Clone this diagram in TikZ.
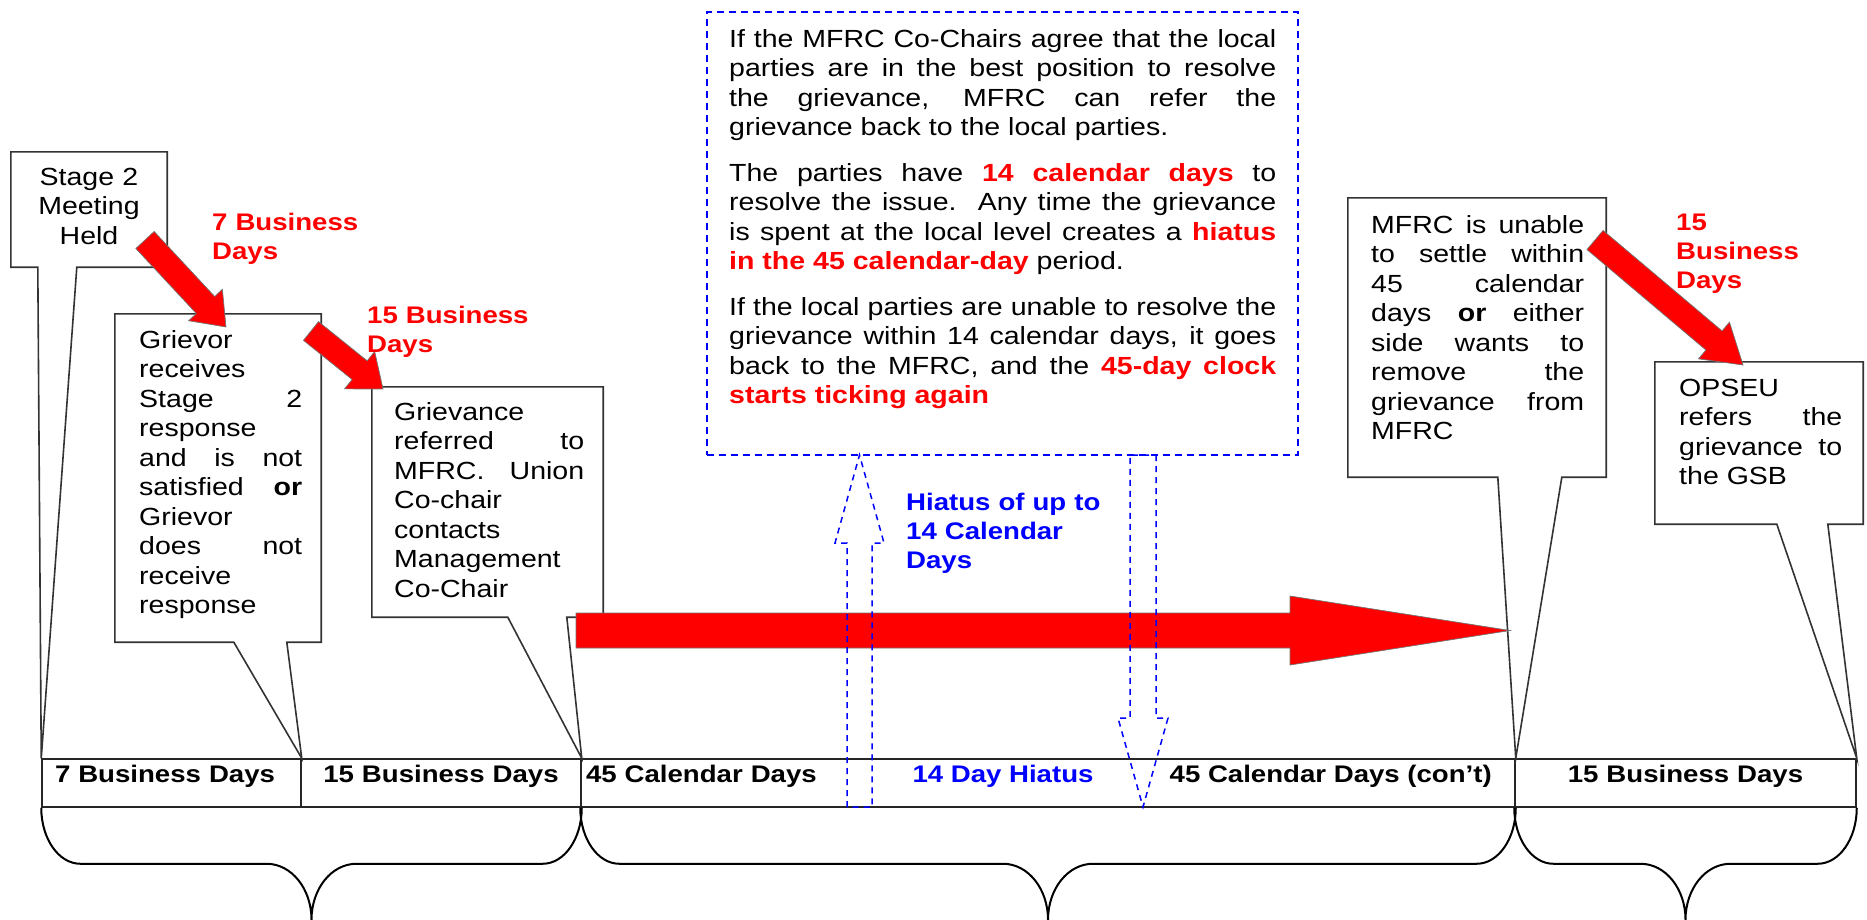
\documentclass[tikz,border=0pt]{standalone}
\usepackage{fontspec}
\setmainfont{Liberation Sans}[FakeStretch=1.15]
\usetikzlibrary{calc}

\tikzset{
  boxshape/.style={inner sep=0pt, draw=none},
  callout/.style={draw=black!80, line width=1.6pt, line join=miter},
  body/.style={font=\fontsize{24.8}{29.5}\selectfont, align=justify, inner sep=0pt, anchor=base west},
  lab/.style={font=\bfseries\fontsize{24}{29}\selectfont, text=red, align=left, text width=220pt, inner sep=0pt, anchor=base west},
  cell/.style={draw=black!85, line width=1.5pt, inner ysep=0pt, inner xsep=13pt, minimum height=48pt, text height=23pt, text depth=25pt, font=\bfseries\fontsize{24}{29}\selectfont},
  tltext/.style={inner sep=0pt, font=\bfseries\fontsize{24}{29}\selectfont},
  notebox/.style={draw=blue, line width=1.6pt, dash pattern=on 7pt off 5pt, inner sep=0pt},
  redarrow/.style={fill=red, draw=black!55, line width=0.7pt},
  hollowarrow/.style={draw=blue, line width=1.5pt, dash pattern=on 6pt off 5pt},
  tlbrace/.style={draw=black, line width=2pt}
}

% box outline with a tail down to the time line
\newcommand{\calloutbox}[4]{%
  \draw[callout] (#1.south west) -- (#1.north west) -- (#1.north east) -- (#1.south east)
    -- ($(#1.south west)+(#3,0)$) -- (#4) -- ($(#1.south west)+(#2,0)$) -- cycle;}

% curly brace below the time line
\newcommand{\tlbrace}[2]{%
  \draw[tlbrace] let \p1=(#1), \p2=(#2), \p3=($(#1)!0.5!(#2)$) in
    (\p1) .. controls +(0pt,-31pt) and +(-21.5pt,0pt) .. (\x1+39pt,\y1-56pt)
    -- (\x3-45pt,\y1-56pt) .. controls +(25pt,0pt) and +(0pt,31pt) .. (\x3,\y1-112pt)
    .. controls +(0pt,31pt) and +(-25pt,0pt) .. (\x3+45pt,\y1-56pt)
    -- (\x2-39pt,\y1-56pt) .. controls +(21.5pt,0pt) and +(0pt,-31pt) .. (\p2);}

% block arrow: tail, tip, shaft half width, head half width, head length
\newcommand{\fatarrow}[6][redarrow]{%
  \path let \p1=($(#3)-(#2)$) in \pgfextra{%
    \pgfmathsetmacro{\fatang}{atan2(\y1,\x1)}%
    \pgfmathsetmacro{\fatlen}{veclen(\x1,\y1)}%
    \xdef\fatang{\fatang}\xdef\fatlen{\fatlen}};
  \begin{scope}[shift={(#2)}, rotate=\fatang]
    \path[#1] (0,-#4) -- ({\fatlen-#6},-#4) -- ({\fatlen-#6},-#5) -- (\fatlen,0)
      -- ({\fatlen-#6},#5) -- ({\fatlen-#6},#4) -- (0,#4) -- cycle;
  \end{scope}}

\begin{document}
\begin{tikzpicture}[x=1pt, y=-1pt]
  \useasboundingbox (0,0) rectangle (1867,919);

  % time line
  \node[cell, text width=233, align=left] (c1) at (171.5,783) {7 Business Days};
  \node[cell, text width=254, align=center] (c2) at (441,783) {15 Business Days};
  \node[cell, text width=924, inner xsep=5pt, align=left] (c3) at (1048,783) {45 Calendar Days};
  \node[cell, text width=315, align=center] (c4) at (1685.5,783) {15 Business Days};
  \node[tltext, text=blue, anchor=base] (gap) at (1003,782) {14 Day Hiatus};
  \node[tltext, anchor=base east] (cont) at (1492,782) {45 Calendar Days (con't)};

  \tlbrace{c1.south west}{c2.south east}
  \tlbrace{c3.south west}{c3.south east}
  \tlbrace{c4.south west}{c4.south east}

  % callouts
  \node[boxshape, minimum width=156, minimum height=115] (stage) at (89,209.5) {};
  \node[boxshape, minimum width=206, minimum height=328] (grievor) at (218,478) {};
  \node[boxshape, minimum width=231, minimum height=230] (referred) at (487.5,502) {};
  \node[boxshape, minimum width=258, minimum height=279] (mfrc) at (1477,337.5) {};
  \node[boxshape, minimum width=208, minimum height=162] (opseu) at (1759,443) {};

  \calloutbox{stage}{27}{66}{c1.north west}
  \calloutbox{grievor}{119}{172}{c1.north east}
  \calloutbox{referred}{136}{195}{c2.north east}
  \calloutbox{mfrc}{150}{214}{c3.north east}
  \calloutbox{opseu}{122}{173}{c4.north east}

  \node[body, text width=150, align=center, anchor=base] (stagetxt) at (89,185)
    {Stage 2\\Meeting\\Held};
  \node[body, text width=163] (grievortxt) at (139,348)
    {Grievor\linebreak receives\linebreak Stage 2\linebreak response\linebreak
     and is not\linebreak satisfied \textbf{or}\linebreak Grievor\linebreak
     does not\linebreak receive\linebreak response};
  \node[body, text width=190] (referredtxt) at (394,420)
    {Grievance\linebreak referred to\linebreak MFRC. Union\linebreak Co-chair\linebreak
     contacts\linebreak Management\linebreak Co-Chair};
  \node[body, text width=213] (mfrctxt) at (1371,233)
    {MFRC is unable\linebreak to settle within\linebreak 45 calendar\linebreak
     days \textbf{or} either\linebreak side wants to\linebreak remove the\linebreak
     grievance from\linebreak MFRC};
  \node[body, text width=163] (opseutxt) at (1679,396)
    {OPSEU\linebreak refers the\linebreak grievance to\linebreak the GSB};

  % MFRC note
  \node[notebox, minimum width=591, minimum height=443] (note) at (1002.5,233.5) {};
  \node[body, text width=547] (notetxt) at (729,47)
    {If the MFRC Co-Chairs agree that the local\linebreak
     parties are in the best position to resolve\linebreak
     the grievance, MFRC can refer the\linebreak
     grievance back to the local parties.\par\vspace{16pt}
     The parties have \textcolor{red}{\textbf{14 calendar days}} to\linebreak
     resolve the issue.\ \ Any time the grievance\linebreak
     is spent at the local level creates a \textcolor{red}{\textbf{hiatus}}\linebreak
     \textcolor{red}{\textbf{in the 45 calendar-day}} period.\par\vspace{16pt}
     If the local parties are unable to resolve the\linebreak
     grievance within 14 calendar days, it goes\linebreak
     back to the MFRC, and the \textcolor{red}{\textbf{45-day clock}}\linebreak
     \textcolor{red}{\textbf{starts ticking again}}};

  % arrows
  \coordinate (a1t) at (145,240);
  \coordinate (a1h) at (226,327);
  \coordinate (a2t) at (311,331);
  \coordinate (a2h) at (383,389);
  \coordinate (a3t) at (1595,240);
  \coordinate (a3h) at (1743,365);
  \coordinate (bigt) at (576,630.5);
  \coordinate (bigh) at (1510,630.5);
  \coordinate (upt) at (859.5,807);
  \coordinate (uph) at (859.5,455);
  \coordinate (dnt) at (1143,455);
  \coordinate (dnh) at (1143,807);

  \fatarrow{a1t}{a1h}{12.5}{23}{30}
  \fatarrow{a2t}{a2h}{12}{24}{30}
  \fatarrow{a3t}{a3h}{12.5}{24}{38}
  \fatarrow{bigt}{bigh}{17.5}{34.5}{220}
  \fatarrow[hollowarrow]{upt}{uph}{12.5}{24.5}{88}
  \fatarrow[hollowarrow]{dnt}{dnh}{13}{25}{89}

  % labels
  \node[lab] (lab7) at (212,230) {7 Business\\Days};
  \node[lab] (lab15) at (367,323) {15 Business\\Days};
  \node[lab] (lab15b) at (1676,230) {15\\Business\\Days};
  \node[lab, text=blue] (hiatlab) at (906,510) {Hiatus of up to\\14 Calendar\\Days};
\end{tikzpicture}
\end{document}
